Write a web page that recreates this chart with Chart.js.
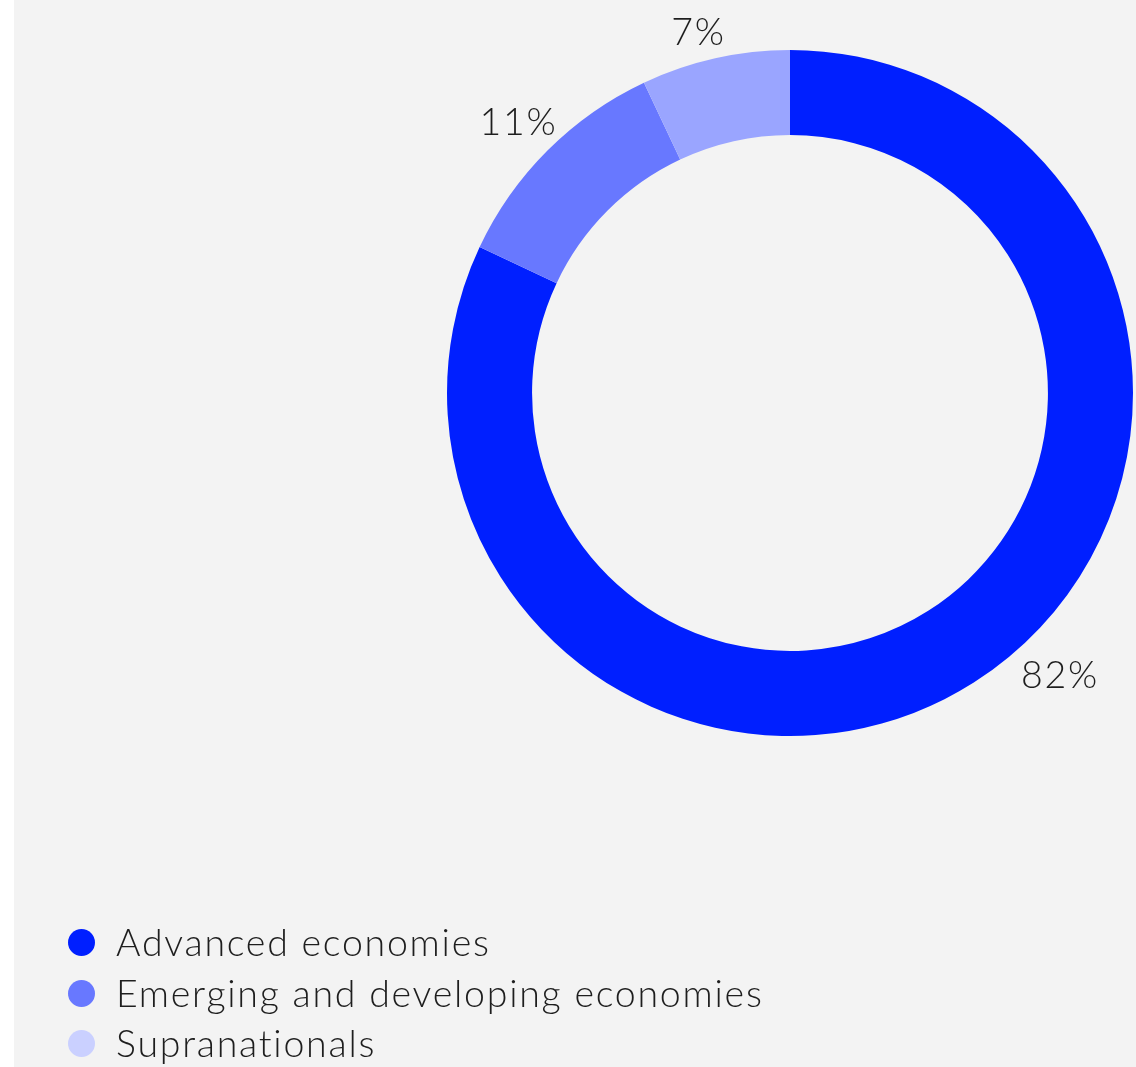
<!DOCTYPE html>
<html>
<head>
<meta charset="utf-8">
<script src="https://cdn.jsdelivr.net/npm/chart.js@4/dist/chart.umd.min.js"></script>
<style>
  html, body { margin: 0; padding: 0; background: #ffffff; }
  #page { position: relative; width: 1136px; height: 1067px; overflow: hidden; }
  #panel { position: absolute; left: 14px; top: 0; width: 1122px; height: 1067px; background: #f3f3f3; }
  #chartBox { position: absolute; left: 0; top: 0; width: 1136px; height: 1067px; }
  #legend { position: absolute; left: 68px; top: 917px; margin: 0; padding: 0; list-style: none;
    font-family: Lato, sans-serif; font-weight: 300; font-size: 37.5px; letter-spacing: 1.75px; color: #1e1e1e; }
  #legend li { position: relative; height: 50.5px; line-height: 50.5px; padding-left: 48px; white-space: nowrap; }
  #legend span { position: absolute; left: 0; top: 12px; width: 27px; height: 27px; border-radius: 50%; }
</style>
</head>
<body>
<div id="page">
  <div id="panel"></div>
  <div id="chartBox"><canvas id="chart"></canvas></div>
  <ul id="legend"></ul>
</div>
<script>
(function () {

    'use strict';

    // data
    const categories = ["Advanced economies", "Emerging and developing economies", "Supranationals"];
    const shares = [82, 11, 7];
    const sliceColors = ["#001fff", "#6878ff", "#9aa5ff"];
    const legendColors = ["#001fff", "#6878ff", "#cad0ff"];

    window.addEventListener("load", init);

    function init() {
        buildLegend();
        drawChart();
    }

    function buildLegend() {
        let list = id("legend");
        categories.forEach((name, i) => {
            let li = document.createElement("li");
            let dot = document.createElement("span");
            dot.style.background = legendColors[i];
            li.appendChild(dot);
            li.appendChild(document.createTextNode(name));
            list.appendChild(li);
        });
    }

    // writes the percentage next to each slice, just outside the ring
    const sliceLabels = {
        id: 'sliceLabels',
        afterDatasetsDraw(chart, args, opts) {
            let ctx = chart.ctx;
            let arcs = chart.getDatasetMeta(0).data;
            ctx.save();
            ctx.font = opts.font;
            ctx.letterSpacing = opts.spacing;
            ctx.fillStyle = opts.color;
            ctx.textAlign = 'center';
            ctx.textBaseline = 'alphabetic';
            arcs.forEach((arc, i) => {
                let p = arc.getProps(['x', 'y', 'startAngle', 'endAngle', 'outerRadius'], true);
                let mid = (p.startAngle + p.endAngle) / 2 + opts.shift[i] * Math.PI / 180;
                let r = p.outerRadius + opts.gap[i];
                // baseline sits half a cap height below the wanted centre
                ctx.fillText(shares[i] + '%', p.x + r * Math.cos(mid), p.y + r * Math.sin(mid) + opts.capHalf);
            });
            ctx.restore();
        }
    };

    function drawChart() {
        let config = {
            type: 'doughnut',
            data: {
                labels: categories,
                datasets: [{
                    data: shares,
                    backgroundColor: sliceColors,
                    borderWidth: 0
                }]
            },
            options: {
                responsive: true,
                maintainAspectRatio: false,
                animation: false,
                cutout: '75.2%',
                layout: {
                    padding: { left: 447, right: 3, top: 50, bottom: 331 }
                },
                plugins: {
                    legend: { display: false },
                    tooltip: { enabled: false },
                    sliceLabels: {
                        font: '300 37.5px Lato, sans-serif',
                        spacing: '1.75px',
                        color: '#1e1e1e',
                        capHalf: 13.4,
                        gap: [47, 41, 30],
                        shift: [-11.4, 0, -1.6]
                    }
                }
            },
            plugins: [sliceLabels]
        };

        new Chart(id("chart"), config);
    }

    function id(idName) {
        return document.getElementById(idName);
    }

})();
</script>
</body>
</html>
